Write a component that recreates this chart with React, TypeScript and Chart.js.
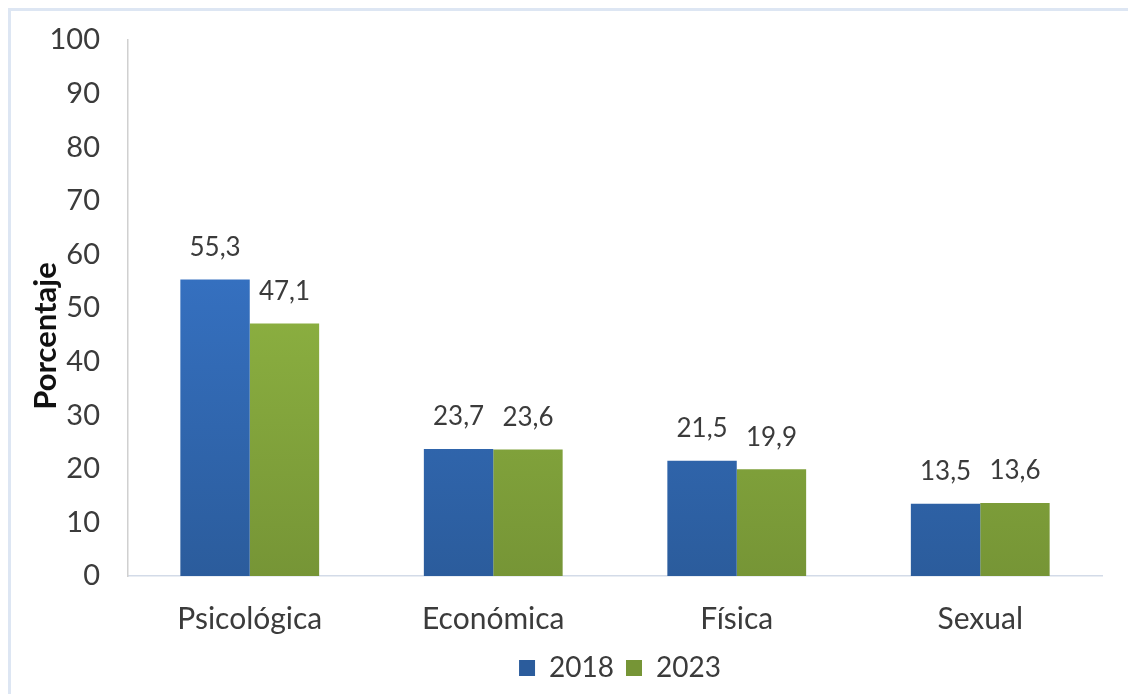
import React, { useEffect, useRef } from "react";
import { Chart, registerables } from "chart.js";

Chart.register(...registerables);

const categories = ["Psicológica", "Económica", "Física", "Sexual"];
const series2018 = [55.3, 23.7, 21.5, 13.5];
const series2023 = [47.1, 23.6, 19.9, 13.6];
const seriesLabels = ["2018", "2023"];
const yTitle = "Porcentaje";

const FONT = "Lato, 'Open Sans', sans-serif";
const TEXT = "#3b3b3b";

function gradient(ctx: CanvasRenderingContext2D, area: any, top: string, bottom: string) {
  const g = ctx.createLinearGradient(0, area.top, 0, area.bottom);
  g.addColorStop(0, top);
  g.addColorStop(1, bottom);
  return g;
}

const valueLabels = {
  id: "valueLabels",
  afterDatasetsDraw(chart: any) {
    const ctx = chart.ctx;
    ctx.save();
    ctx.font = `26px ${FONT}`;
    ctx.fillStyle = TEXT;
    ctx.textAlign = "center";
    ctx.textBaseline = "middle";
    chart.data.datasets.forEach((ds: any, i: number) => {
      const meta = chart.getDatasetMeta(i);
      meta.data.forEach((bar: any, j: number) => {
        const v = ds.data[j] as number;
        ctx.fillText(v.toFixed(1).replace(".", ","), bar.x, bar.y - 32);
      });
    });
    ctx.restore();
  },
};

const axisTitle = {
  id: "axisTitle",
  afterDraw(chart: any) {
    const ctx = chart.ctx;
    const a = chart.chartArea;
    ctx.save();
    ctx.translate(46, (a.top + a.bottom) / 2 + 28);
    ctx.rotate(-Math.PI / 2);
    ctx.font = `bold 31px ${FONT}`;
    ctx.fillStyle = "#111";
    ctx.textAlign = "center";
    ctx.textBaseline = "middle";
    ctx.fillText(yTitle, 0, 0);
    ctx.restore();
  },
};

const legendShift = {
  id: "legendShift",
  afterLayout(chart: any) {
    const l = chart.legend;
    if (l && chart.chartArea) {
      const w = l.right - l.left;
      const c = (chart.chartArea.left + chart.chartArea.right) / 2 + 5;
      l.left = c - w / 2;
      l.right = c + w / 2;
    }
  },
};

export default function App() {
  const ref = useRef<HTMLCanvasElement>(null);
  useEffect(() => {
    const canvas = ref.current!;
    const chart = new Chart(canvas, {
      type: "bar",
      data: {
        labels: categories,
        datasets: [
          {
            label: seriesLabels[0],
            data: series2018,
            backgroundColor: (c: any) => {
              const a = c.chart.chartArea;
              if (!a) return "#3672c4";
              return gradient(c.chart.ctx, a, "#3d80dc", "#2b5c9c");
            },
            borderWidth: 0,
            categoryPercentage: 0.57,
            barPercentage: 1,
          },
          {
            label: seriesLabels[1],
            data: series2023,
            backgroundColor: (c: any) => {
              const a = c.chart.chartArea;
              if (!a) return "#8ab140";
              return gradient(c.chart.ctx, a, "#a0c94a", "#769536");
            },
            borderWidth: 0,
            categoryPercentage: 0.57,
            barPercentage: 1,
          },
        ],
      },
      options: {
        animation: false,
        responsive: false,
        maintainAspectRatio: false,
        layout: { padding: { top: 40, right: 26, left: 20, bottom: 2 } },
        scales: {
          x: {
            grid: { display: false, drawTicks: false },
            border: { display: true, color: "#d3dbe8", width: 1.5 },
            ticks: { font: { family: FONT, size: 30 }, color: TEXT, padding: 25 },
            afterFit: (s: any) => {
              s.height = 66;
            },
          },
          y: {
            min: 0,
            max: 100,
            grid: { display: false, drawTicks: false },
            border: { display: true, color: "#d0d0d0", width: 1.5 },
            ticks: { stepSize: 10, font: { family: FONT, size: 29 }, color: TEXT, padding: 28 },
            title: { display: false },
            afterFit: (s: any) => {
              s.width = 108;
              s.paddingTop = 5;
            },
          },
        },
        plugins: {
          legend: {
            position: "bottom",
            labels: {
              font: { family: FONT, size: 28 },
              color: TEXT,
              boxWidth: 16,
              boxHeight: 16,
              padding: 12,
            },
          },
          tooltip: { enabled: false },
        },
      },
      plugins: [valueLabels, legendShift, axisTitle],
    });
    return () => chart.destroy();
  }, []);

  return (
    <div
      style={{
        position: "fixed",
        left: 0,
        top: 0,
        width: 1128,
        height: 694,
        overflow: "hidden",
        background: "#fff",
      }}
    >
      <div
        style={{
          position: "absolute",
          left: 8,
          top: 8,
          width: 1200,
          height: 800,
          border: "3px solid #dde6f3",
          boxSizing: "border-box",
        }}
      />
      <canvas
        ref={ref}
        width={1128}
        height={694}
        style={{ position: "absolute", left: 0, top: 0, width: 1128, height: 694 }}
      />
    </div>
  );
}
